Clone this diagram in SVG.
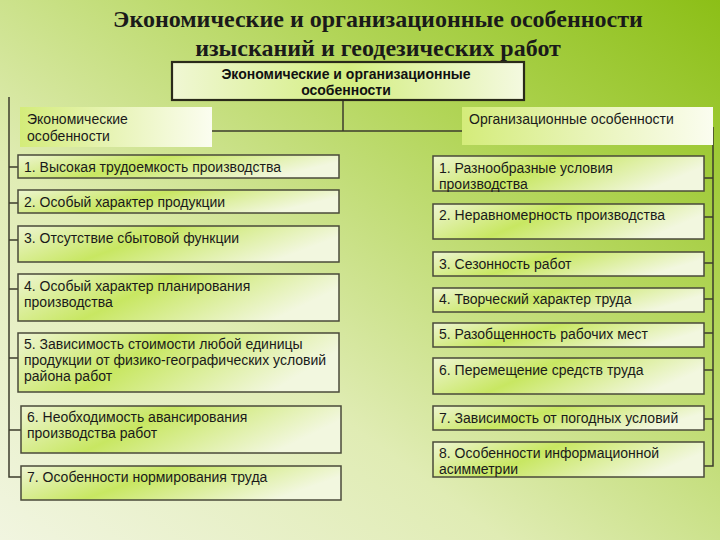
<svg xmlns="http://www.w3.org/2000/svg" width="720" height="540" viewBox="0 0 720 540">
<defs>
<linearGradient id="bg" x1="0" y1="1" x2="1" y2="0">
<stop offset="0" stop-color="#f1f5e0"/>
<stop offset="0.35" stop-color="#e0ecb4"/>
<stop offset="0.7" stop-color="#b2d558"/>
<stop offset="1" stop-color="#8cbf17"/>
</linearGradient>
<linearGradient id="box" x1="0" y1="0" x2="1" y2="0.3">
<stop offset="0" stop-color="#eef5d2"/>
<stop offset="0.45" stop-color="#c8e762"/>
<stop offset="1" stop-color="#f2f7df"/>
</linearGradient>
<linearGradient id="hdr" x1="0" y1="0" x2="1" y2="0">
<stop offset="0" stop-color="#d4ec7a"/>
<stop offset="0.5" stop-color="#e8f4b8"/>
<stop offset="1" stop-color="#fbfdf0"/>
</linearGradient>
<linearGradient id="top" x1="0" y1="0" x2="1" y2="0">
<stop offset="0" stop-color="#f0f7d4"/>
<stop offset="0.5" stop-color="#d4ee82"/>
<stop offset="1" stop-color="#f4f9e0"/>
</linearGradient>
</defs>
<style>
.t{font-family:"Liberation Sans",Arial,sans-serif;font-size:14px;fill:#1a1a1a}
.b{font-family:"Liberation Sans",Arial,sans-serif;font-size:14px;font-weight:bold;fill:#111}
.ttl{font-family:"Liberation Serif","Times New Roman",serif;font-size:24px;font-weight:bold;fill:#1a1a1a}
.bx{fill:url(#box);stroke:#4a4a3a;stroke-width:1.5}
.hd{fill:url(#hdr);stroke:none}
.ln{stroke:#3c3c2c;stroke-width:1.5;fill:none}
</style>
<rect width="720" height="540" fill="url(#bg)"/>
<g id="title">
<text class="ttl" x="378" y="27" text-anchor="middle">Экономические и организационные особенности</text>
<text class="ttl" x="378" y="56" text-anchor="middle">изысканий и геодезических работ</text>
</g>
<g id="connectors">
<path class="ln" d="M343 100V131M52 131H463"/>
<path class="ln" d="M9 97V477H21M9 167H18M9 203H18M9 240H18M9 289H18M9 358H18M9 430H21"/>
<path class="ln" d="M713 127V466H704M704 178H713M704 217H713M704 263H713M704 299H713M704 333H713M704 370H713M704 419H713"/>
</g>
<g id="root">
<rect x="172" y="62" width="352" height="38" fill="url(#top)" stroke="#2a2a1a" stroke-width="2.2"/>
<text class="b" x="346" y="79" text-anchor="middle">Экономические и организационные</text>
<text class="b" x="346" y="95" text-anchor="middle">особенности</text>
</g>
<g id="econ">
<rect class="hd" x="20" y="107" width="192" height="40"/>
<text class="t" x="27" y="124">Экономические</text>
<text class="t" x="27" y="141">особенности</text>
</g>
<g id="org">
<rect class="hd" x="462" y="107" width="251" height="38"/>
<text class="t" x="469" y="124">Организационные особенности</text>
</g>
<g id="e1"><rect class="bx" x="18" y="155" width="321" height="23"/><text class="t" x="24" y="172">1. Высокая трудоемкость производства</text></g>
<g id="e2"><rect class="bx" x="18" y="190" width="321" height="23"/><text class="t" x="24" y="207">2. Особый характер продукции</text></g>
<g id="e3"><rect class="bx" x="18" y="226" width="321" height="36"/><text class="t" x="24" y="243">3. Отсутствие сбытовой функции</text></g>
<g id="e4"><rect class="bx" x="18" y="274" width="321" height="47"/><text class="t" x="24" y="291">4. Особый характер планирования</text><text class="t" x="24" y="307">производства</text></g>
<g id="e5"><rect class="bx" x="18" y="333" width="321" height="59"/><text class="t" x="24" y="349">5. Зависимость стоимости любой единицы</text><text class="t" x="24" y="365">продукции от физико-географических условий</text><text class="t" x="24" y="381">района работ</text></g>
<g id="e6"><rect class="bx" x="21" y="406" width="320" height="47"/><text class="t" x="27" y="422">6. Необходимость авансирования</text><text class="t" x="27" y="438">производства работ</text></g>
<g id="e7"><rect class="bx" x="21" y="466" width="320" height="34"/><text class="t" x="27" y="482">7. Особенности нормирования труда</text></g>
<g id="o1"><rect class="bx" x="433" y="156" width="271" height="35"/><text class="t" x="439" y="173">1. Разнообразные  условия</text><text class="t" x="439" y="189">производства</text></g>
<g id="o2"><rect class="bx" x="433" y="204" width="271" height="35"/><text class="t" x="439" y="220">2. Неравномерность производства</text></g>
<g id="o3"><rect class="bx" x="433" y="252" width="271" height="24"/><text class="t" x="439" y="269">3. Сезонность работ</text></g>
<g id="o4"><rect class="bx" x="433" y="288" width="271" height="24"/><text class="t" x="439" y="304">4. Творческий характер труда</text></g>
<g id="o5"><rect class="bx" x="433" y="323" width="271" height="24"/><text class="t" x="439" y="339">5. Разобщенность рабочих мест</text></g>
<g id="o6"><rect class="bx" x="433" y="358" width="271" height="36"/><text class="t" x="439" y="375">6. Перемещение средств труда</text></g>
<g id="o7"><rect class="bx" x="433" y="406" width="271" height="24"/><text class="t" x="439" y="423">7. Зависимость от погодных условий</text></g>
<g id="o8"><rect class="bx" x="433" y="442" width="271" height="35"/><text class="t" x="439" y="458">8. Особенности информационной</text><text class="t" x="439" y="474">асимметрии</text></g>
</svg>
